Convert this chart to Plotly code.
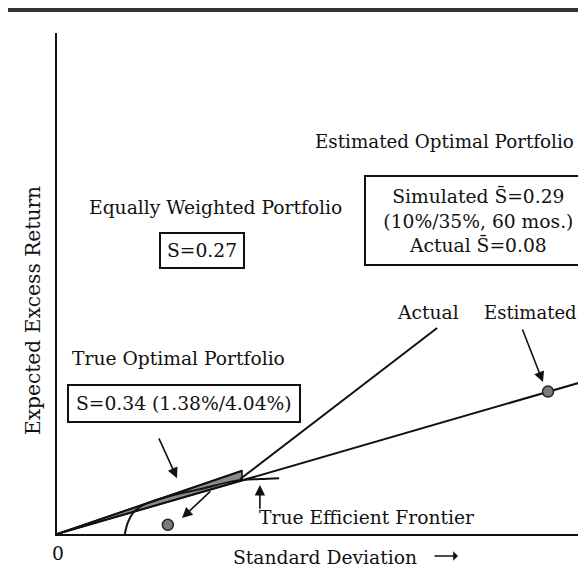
import plotly.graph_objects as go

# ---- data (std dev %, expected excess return %) ----
frontier_sd = [1.48, 1.55, 1.66, 1.81, 1.99, 2.47, 3.12, 3.89, 4.43, 4.85]
frontier_ret = [0.00, 0.26, 0.46, 0.59, 0.68, 0.83, 0.98, 1.16, 1.20, 1.22]
true_cml_sd = [0.0, 4.04]
true_cml_ret = [0.0, 1.38]
est_line_sd = [0.0, 11.6]
est_line_ret = [0.0, 3.36]
actual_line_sd = [4.0, 8.3]
actual_line_ret = [1.2, 4.5]
est_point_sd = [10.72]
est_point_ret = [3.11]
actual_point_sd = [2.42]
actual_point_ret = [0.20]

X_MAX = 11.55
Y_MAX = 10.94

FONT = dict(family="DejaVu Serif", size=18.7, color="#111")

def font(size):
    return dict(family="DejaVu Serif", size=size, color="#111")

fig = go.Figure()

# shaded band between true CML and estimated line
band_sd = [0.0, true_cml_sd[1], true_cml_sd[1], 0.0]
band_ret = [0.0, true_cml_ret[1], true_cml_sd[1] * est_line_ret[1] / est_line_sd[1], 0.0]
fig.add_trace(go.Scatter(x=band_sd, y=band_ret, mode="lines", fill="toself",
                         fillcolor="#8a8a8a", line=dict(color="#111", width=1.5),
                         hoverinfo="skip"))
fig.add_trace(go.Scatter(x=est_line_sd, y=est_line_ret, mode="lines",
                         line=dict(color="#111", width=2)))
fig.add_trace(go.Scatter(x=true_cml_sd, y=true_cml_ret, mode="lines",
                         line=dict(color="#111", width=2)))
fig.add_trace(go.Scatter(x=frontier_sd, y=frontier_ret, mode="lines",
                         line=dict(color="#111", width=2, shape="spline")))
fig.add_trace(go.Scatter(x=actual_line_sd, y=actual_line_ret, mode="lines",
                         line=dict(color="#111", width=2)))
fig.add_trace(go.Scatter(x=est_point_sd + actual_point_sd, y=est_point_ret + actual_point_ret,
                         mode="markers",
                         marker=dict(size=11, color="#7a7a7a", line=dict(color="#222", width=1.5))))

ann = []

def text(x, y, s, **kw):
    d = dict(x=x, y=y, xref="x", yref="y", text=s, showarrow=False, font=FONT)
    d.update(kw)
    ann.append(d)

def arrow(x0, y0, x1, y1):
    ann.append(dict(x=x1, y=y1, ax=x0, ay=y0, xref="x", yref="y", axref="x", ayref="y",
                    text="", showarrow=True, arrowhead=2, arrowsize=1.3, arrowwidth=1.6,
                    arrowcolor="#111"))

text(8.45, 8.56, "Estimated Optimal Portfolio", font=font(18.3))
text(9.21, 6.84,
     "Simulated S\u0304=0.29<br>\u2002(10%/35%, 60 mos.)\u2002<br>Actual S\u0304=0.08",
     bordercolor="#111", borderwidth=2, borderpad=8)
text(3.45, 7.12, "Equally Weighted Portfolio")
text(3.17, 6.20, "S=0.27", bordercolor="#111", borderwidth=2, borderpad=6)
text(0.28, 3.84, "True Optimal Portfolio", xanchor="left")
text(2.78, 2.86, "S=0.34 (1.38%/4.04%)", bordercolor="#111", borderwidth=2, borderpad=7)
text(8.10, 4.83, "Actual")
text(10.33, 4.83, "Estimated", font=font(18))
text(4.37, 0.37, "True Efficient Frontier", xanchor="left")

arrow(2.21, 2.12, 2.62, 1.22)
arrow(3.38, 0.96, 2.73, 0.35)
arrow(10.15, 4.50, 10.61, 3.32)
arrow(4.43, 0.52, 4.43, 1.07)

# axis labels
ann.append(dict(x=0.002, y=-0.038, xref="paper", yref="paper", text="0",
                xanchor="center", yanchor="middle", showarrow=False, font=FONT))
ann.append(dict(x=0.5066, y=-0.046, xref="paper", yref="paper", text="Standard Deviation",
                xanchor="center", yanchor="middle", showarrow=False, font=FONT))
ann.append(dict(x=0.758, y=-0.044, xref="paper", yref="paper", ax=-25, ay=0, text="",
                showarrow=True, arrowhead=1, arrowsize=1, arrowwidth=1.6, arrowcolor="#111"))
ann.append(dict(x=-0.0454, y=0.447, xref="paper", yref="paper", text="Expected Excess Return",
                textangle=-90, xanchor="center", yanchor="middle", showarrow=False,
                font=font(20.2)))

fig.update_layout(
    width=578, height=577,
    margin=dict(l=49, r=0, t=25, b=51),
    paper_bgcolor="white", plot_bgcolor="white",
    showlegend=False,
    annotations=ann,
    shapes=[dict(type="line", xref="paper", yref="paper", x0=-0.093, x1=1.0,
                 y0=1.046, y1=1.046, line=dict(color="#333", width=4))],
    xaxis=dict(range=[0, X_MAX], showline=True, linecolor="#111", linewidth=2,
               showgrid=False, zeroline=False, showticklabels=False, ticks=""),
    yaxis=dict(range=[0, Y_MAX], showline=True, linecolor="#111", linewidth=2,
               showgrid=False, zeroline=False, showticklabels=False, ticks=""),
)

fig.write_html("out.html")
